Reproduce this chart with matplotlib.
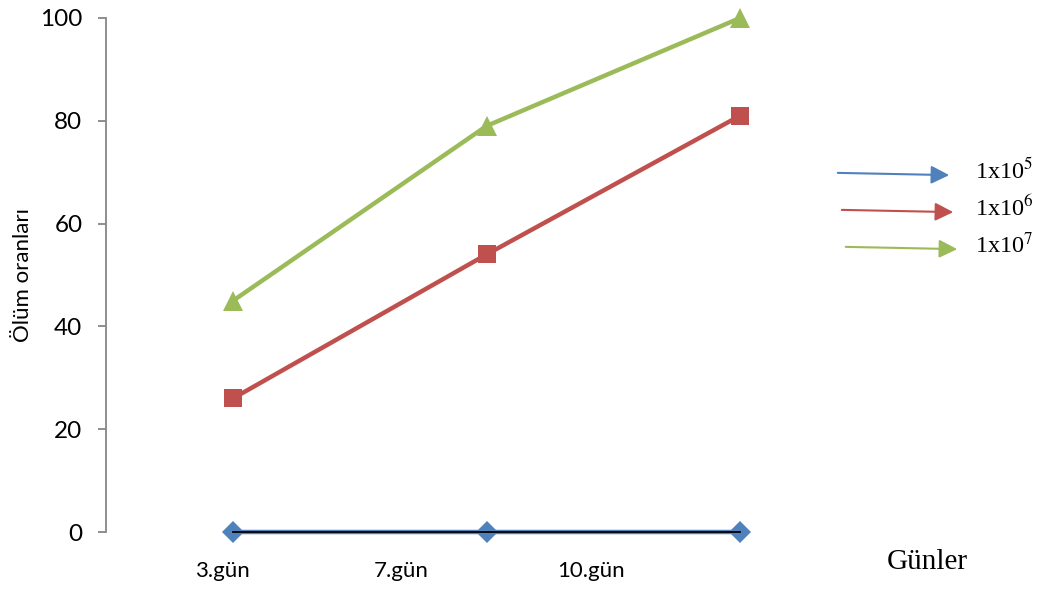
import matplotlib.pyplot as plt
from matplotlib.patches import FancyArrowPatch

plt.rcParams['mathtext.fontset'] = 'stix'

# days on x, mortality (%) on y
day_labels = ['3.gün', '7.gün', '10.gün']
doses = ['1x10$^5$', '1x10$^6$', '1x10$^7$']
mort_1e5 = [0, 0, 0]
mort_1e6 = [26, 54, 81]
mort_1e7 = [45, 79, 100]

colors = ['#4F81BD', '#C0504D', '#9BBB59']
markers = ['D', 's', '^']
msizes = [11, 13, 14]

fig = plt.figure(figsize=(10.5, 5.9), dpi=100)
ax = fig.add_axes([0.101, 0.0983, 0.642, 0.8712])

xs = range(len(day_labels))
for ys, c, m, ms in zip([mort_1e5, mort_1e6, mort_1e7], colors, markers, msizes):
    ax.plot(xs, ys, color=c, lw=3.2, marker=m, markersize=ms,
            markeredgewidth=0, clip_on=False, zorder=3)

# horizontal axis line runs only across the data span
ax.plot([0, len(day_labels) - 1], [0, 0], color='black', lw=1.3, zorder=4, clip_on=False)

ax.set_xlim(-0.501, 2.158)
ax.set_ylim(0, 100)
ax.set_yticks(range(0, 101, 20))

# day labels sit a bit off the data points
ax.set_xticks([-0.043, 0.665, 1.41], day_labels)

for s in ['top', 'right', 'bottom']:
    ax.spines[s].set_visible(False)
ax.spines['left'].set_color('#868686')
ax.spines['left'].set_linewidth(1.3)

ax.tick_params(axis='y', length=6, width=1.3, color='#868686', labelsize=17.5, pad=11)
ax.tick_params(axis='x', length=0, labelsize=16, pad=21)
for lab in ax.get_xticklabels() + ax.get_yticklabels():
    lab.set_family('Lato')

ax.set_ylabel('Ölüm oranları', family='Lato', fontsize=16, labelpad=5)

# arrow legend on the right
arrow_y = [174, 211, 248]
for i, (lab, c) in enumerate(zip(doses, colors)):
    y0 = 1 - arrow_y[i] / 590
    x0 = (835 + 4 * i) / 1050
    x1 = (952 + 4 * i) / 1050
    arr = FancyArrowPatch((x0, y0 + 0.002), (x1, y0 - 0.002), transform=fig.transFigure,
                          arrowstyle='-|>,head_length=11,head_width=5.5', color=c, lw=1.5,
                          mutation_scale=1)
    fig.add_artist(arr)
    fig.text(975 / 1050, 1 - (arrow_y[i] - 3) / 590, lab, family='Liberation Serif',
             fontsize=17.5, va='center', ha='left')

fig.text(927 / 1050, 1 - 562 / 590, 'Günler', family='Liberation Serif',
         fontsize=21, ha='center', va='center')

fig.savefig('out.png', dpi=100)
